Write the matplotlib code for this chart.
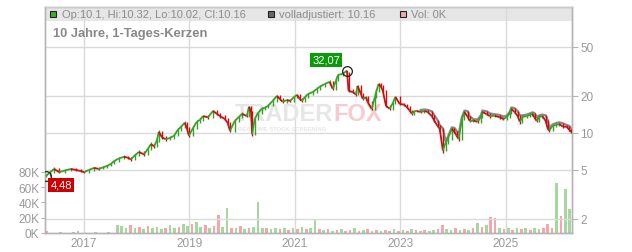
import matplotlib
matplotlib.use("Agg")
import matplotlib.pyplot as plt
import numpy as np
from matplotlib.collections import LineCollection
from matplotlib.patches import Rectangle

plt.rcParams['font.family'] = ['Liberation Sans', 'DejaVu Sans']

# ---------------- data ----------------
dates = [2016.28, 2016.36, 2016.43, 2016.53, 2016.64, 2016.75, 2016.85, 2016.94, 2017.00, 2017.09,
         2017.19, 2017.28, 2017.36, 2017.44, 2017.51, 2017.57, 2017.66, 2017.76, 2017.83, 2017.89,
         2017.97, 2018.04, 2018.14, 2018.21, 2018.27, 2018.33, 2018.38, 2018.42, 2018.48, 2018.55,
         2018.63, 2018.71, 2018.78, 2018.84, 2018.91, 2018.95, 2018.99, 2019.07, 2019.14, 2019.20,
         2019.26, 2019.35, 2019.45, 2019.52, 2019.58, 2019.67, 2019.73, 2019.77, 2019.86, 2019.94,
         2020.00, 2020.09, 2020.13, 2020.17, 2020.19, 2020.24, 2020.30, 2020.37, 2020.43, 2020.49,
         2020.58, 2020.66, 2020.72, 2020.77, 2020.85, 2020.91, 2020.98, 2021.04, 2021.09, 2021.13,
         2021.19, 2021.25, 2021.34, 2021.42, 2021.47, 2021.57, 2021.66, 2021.72, 2021.78, 2021.82,
         2021.91, 2021.99, 2022.02, 2022.10, 2022.16, 2022.19, 2022.25, 2022.29, 2022.35, 2022.38,
         2022.46, 2022.52, 2022.55, 2022.59, 2022.63, 2022.67, 2022.73, 2022.80, 2022.86, 2022.91,
         2022.99, 2023.07, 2023.12, 2023.18, 2023.22, 2023.27, 2023.31, 2023.39, 2023.46, 2023.52,
         2023.60, 2023.65, 2023.71, 2023.75, 2023.81, 2023.86, 2023.90, 2023.98, 2024.03, 2024.07,
         2024.11, 2024.17, 2024.22, 2024.28, 2024.32, 2024.39, 2024.47, 2024.53, 2024.56, 2024.64,
         2024.70, 2024.79, 2024.89, 2024.96, 2025.02, 2025.08, 2025.11, 2025.17, 2025.23, 2025.27,
         2025.32, 2025.40, 2025.46, 2025.51, 2025.55, 2025.59, 2025.64, 2025.70, 2025.76, 2025.80,
         2025.83, 2025.89, 2025.95, 2026.02, 2026.08, 2026.16, 2026.21, 2026.25]

closes = [4.48, 4.8, 5.1, 4.8, 4.95, 5.1, 5.0, 4.9, 4.8, 5.0,
          5.2, 5.1, 5.25, 5.4, 5.6, 5.9, 6.2, 6.4, 6.3, 6.1,
          6.6, 7.0, 6.7, 7.4, 8.1, 7.8, 8.6, 10.2, 9.2, 8.9,
          9.1, 9.5, 10.6, 11.2, 12.1, 11.0, 9.5, 11.0, 12.3, 12.8,
          13.7, 13.4, 15.1, 14.3, 13.7, 13.0, 12.0, 10.4, 12.5, 13.5,
          14.3, 13.7, 16.3, 14.8, 9.8, 13.0, 14.5, 15.7, 16.0, 16.6,
          18.2, 20.0, 18.8, 17.9, 18.5, 18.2, 19.5, 20.4, 19.0, 18.2,
          19.5, 20.7, 21.5, 22.8, 23.7, 25.0, 26.0, 22.8, 26.5, 29.6,
          30.2, 32.07, 22.0, 21.5, 20.5, 24.1, 21.0, 18.9, 19.5, 17.9,
          15.7, 19.6, 22.0, 25.0, 24.0, 22.0, 16.6, 15.7, 17.5, 19.6,
          17.2, 17.0, 16.3, 15.2, 14.3, 15.0, 15.1, 14.8, 15.1, 14.8,
          13.7, 12.5, 11.4, 10.8, 7.2, 8.3, 8.9, 10.8, 10.2, 9.5,
          8.9, 13.0, 14.8, 13.5, 12.5, 12.6, 12.3, 13.5, 14.8, 14.2,
          13.7, 13.8, 13.4, 13.0, 13.4, 14.5, 15.7, 14.8, 13.7, 12.3,
          13.5, 13.7, 14.0, 14.3, 13.3, 12.5, 13.5, 13.7, 12.5, 10.8,
          10.5, 11.4, 11.6, 11.8, 11.3, 11.2, 10.6, 10.16]

highs = [4.6, 4.95, 5.25, 5.15, 5.05, 5.2, 5.15, 5.05, 4.95, 5.1,
         5.3, 5.25, 5.35, 5.5, 5.75, 6.05, 6.35, 6.6, 6.55, 6.4,
         6.75, 7.2, 7.1, 7.6, 8.4, 8.2, 8.9, 10.5, 10.4, 9.4,
         9.4, 9.8, 10.9, 11.6, 12.5, 12.3, 11.2, 11.3, 12.7, 13.2,
         14.1, 14.0, 15.5, 15.3, 14.6, 14.0, 13.3, 12.2, 12.9, 13.9,
         14.7, 14.6, 16.7, 16.5, 15.0, 13.4, 14.9, 16.1, 16.5, 17.1,
         18.7, 20.5, 20.2, 19.1, 18.9, 18.9, 20.0, 20.9, 20.6, 19.3,
         20.0, 21.2, 22.0, 23.4, 24.3, 25.6, 26.7, 26.3, 27.2, 30.3,
         31.0, 32.07, 31.5, 22.6, 22.0, 24.7, 24.4, 21.3, 20.0, 19.8,
         18.1, 20.1, 22.6, 25.6, 25.4, 24.3, 22.3, 16.9, 17.9, 20.1,
         19.9, 17.6, 17.3, 16.5, 15.4, 15.4, 15.5, 15.4, 15.5, 15.4,
         15.0, 13.9, 12.7, 11.6, 10.9, 8.6, 9.2, 11.1, 11.0, 10.4,
         9.7, 13.4, 15.2, 15.0, 13.7, 12.9, 12.9, 13.9, 15.2, 15.0,
         14.4, 14.2, 14.0, 13.6, 13.8, 14.9, 16.1, 15.9, 15.0, 13.9,
         13.9, 14.1, 14.4, 14.7, 14.5, 13.5, 13.9, 14.1, 13.9, 12.7,
         11.0, 11.7, 12.0, 12.2, 12.0, 11.6, 11.4, 10.8]

lows = [4.4, 4.45, 4.75, 4.7, 4.75, 4.9, 4.9, 4.8, 4.7, 4.75,
        4.95, 5.0, 5.05, 5.2, 5.35, 5.55, 5.85, 6.1, 6.15, 5.95,
        6.0, 6.5, 6.5, 6.6, 7.3, 7.5, 7.7, 8.5, 9.0, 8.6,
        8.7, 9.0, 9.4, 10.4, 11.0, 10.7, 9.2, 9.4, 10.8, 12.0,
        12.6, 13.0, 13.2, 14.0, 13.3, 12.7, 11.7, 10.1, 10.2, 12.3,
        13.3, 13.4, 13.5, 14.4, 9.5, 9.7, 12.8, 14.3, 15.4, 15.8,
        16.4, 18.0, 18.4, 17.5, 17.6, 17.8, 18.0, 19.2, 18.6, 17.8,
        18.0, 19.3, 20.4, 21.2, 22.5, 23.4, 24.7, 22.3, 22.5, 26.2,
        29.2, 29.8, 21.5, 21.0, 20.0, 20.2, 20.6, 18.4, 18.5, 17.5,
        15.3, 15.5, 19.3, 21.7, 23.5, 21.5, 16.2, 15.3, 15.5, 17.3,
        16.9, 16.6, 15.9, 14.9, 14.0, 14.1, 14.7, 14.5, 14.6, 14.5,
        13.4, 12.2, 11.1, 10.5, 6.9, 7.1, 8.1, 8.7, 9.9, 9.2,
        8.6, 8.8, 12.8, 13.2, 12.2, 12.2, 12.0, 12.1, 13.3, 13.9,
        13.3, 13.4, 13.1, 12.7, 12.8, 13.2, 14.3, 14.5, 13.4, 11.8,
        12.1, 13.3, 13.5, 13.8, 13.0, 12.2, 12.3, 13.3, 12.2, 10.5,
        10.2, 10.3, 11.2, 11.4, 11.0, 10.9, 10.4, 10.02]

# monthly volume in thousands, Apr 2016 .. Mar 2026
vol_start = 2016.30
vol_k = [2, 0.5, 0, 1, 0.5, 0, 1, 2, 0.5, 0, 0.5, 1.5, 0.5, 0, 1, 0.5,
         11, 9, 7, 10, 6, 8, 5, 9, 6, 8, 5, 7,
         10, 6, 8, 12, 9, 12, 14, 8, 10, 7, 9, 23,
         8, 33, 7, 6, 9, 5, 6, 8, 41, 7, 6, 5,
         6, 5, 7, 4, 6, 5, 8, 5, 6, 17, 5, 4,
         5, 3, 4, 5, 3, 4, 6, 3, 4, 5, 3, 4,
         3, 4, 3, 5, 3, 4, 3, 5, 4, 3, 4, 3,
         4, 5, 11, 5, 4, 6, 4, 5, 4, 6, 13, 8,
         10, 21, 20, 6, 5, 7, 4, 6, 5, 7, 4, 6,
         5, 7, 12, 6, 65, 22, 58, 32]
vol_dir = ("rrgrgrrgggrgrggr" "gggrgrgrgggr" "ggrggrggrgrr" "ggrgrgrgggrg"
           "grgrgrgrggrg" "rgrgrrgrgrgr" "grrgrgrgrgrg" "grrggrgrgrgr"
           "grrgrgrgrgrg" "grrrgrgg")

year_ticks = [2017, 2019, 2021, 2023, 2025]
price_ticks = [2, 5, 10, 20, 50]
vol_ticks = [0, 20, 40, 60, 80]

legend_ohlc = "Op:10.1, Hi:10.32, Lo:10.02, Cl:10.16"
legend_adj = "volladjustiert: 10.16"
legend_vol = "Vol: 0K"
title = "10 Jahre, 1-Tages-Kerzen"
hi_label, lo_label = "32,07", "4,48"

# ---------------- styling ----------------
GREEN = '#3aa02a'
RED = '#c81010'
GRID = '#dadada'
TXT = '#999999'
SPINE = '#b4b4b4'

fig = plt.figure(figsize=(6.32, 2.53), dpi=100)
fig.patch.set_facecolor('white')
W, H = 632, 253
vax = fig.add_axes([45 / W, 19 / H, 527 / W, 226 / H])
pax = vax.twinx()

x0, x1 = 2016.26, 2026.26
vax.set_xlim(x0, x1)
vax.set_ylim(0, 296)

# header band
vax.add_patch(Rectangle((0, 0.936), 1, 0.064, transform=vax.transAxes,
                        fc='#e6e6e6', ec='none', zorder=0.1))

# vertical grid
for yt in year_ticks:
    vax.axvline(yt, color=GRID, lw=1, zorder=0.3)

# volume bars
vx = vol_start + np.arange(len(vol_k)) / 12.0
vcols = ['#a6d89e' if c == 'g' else '#f2a6ae' for c in vol_dir]
vax.bar(vx, vol_k, width=0.05, color=vcols, linewidth=0, zorder=1)

vax.set_yticks(vol_ticks)
vax.set_yticklabels([f"{v}K" for v in vol_ticks])
vax.set_xticks(year_ticks)
vax.set_xticklabels([str(y) for y in year_ticks])
vax.tick_params(axis='y', labelsize=8.5, labelcolor=TXT, color=SPINE, length=3, pad=1)
vax.tick_params(axis='x', labelsize=8.5, labelcolor=TXT, length=0, pad=3)

# price axis
pax.set_yscale('log')
pax.set_ylim(1.538, 105.5)
pax.set_xlim(x0, x1)
for pt in price_ticks:
    pax.axhline(pt, color=GRID, lw=1, zorder=0.3)
pax.set_yticks(price_ticks)
pax.set_yticklabels([str(p) for p in price_ticks])
pax.yaxis.set_minor_locator(matplotlib.ticker.NullLocator())
pax.tick_params(axis='y', labelsize=8.5, labelcolor=TXT, color=SPINE, length=4, pad=2)

for a in (vax, pax):
    for s in a.spines.values():
        s.set_color(SPINE)
        s.set_linewidth(1)
pax.spines['top'].set_color('#cccccc')

# watermark
pax.text(0.547, 0.53, "TRADER", transform=pax.transAxes, ha='right', va='center',
         fontsize=17, fontweight='bold', color='#e6e6e6', zorder=1)
pax.text(0.547, 0.53, "FOX", transform=pax.transAxes, ha='left', va='center',
         fontsize=17, fontweight='bold', color='#f8cccc', zorder=1)
pax.text(0.45, 0.462, "REALTIME STOCK SCREENING", transform=pax.transAxes, ha='center',
         va='center', fontsize=4.2, fontweight='bold', color='#e6e6e6', zorder=1)

# adjusted (gray) line for recent years
adj_idx = [i for i, d in enumerate(dates) if d >= 2023.35]
pax.plot([dates[i] for i in adj_idx], [highs[i] for i in adj_idx],
         color='#8a8a8a', lw=1.6, zorder=2)

# candles: wick (high-low) + connection between closes, coloured by direction
segs, cols, wicks, wcols = [], [], [], []
for i in range(len(dates)):
    up = i == 0 or closes[i] >= closes[i - 1]
    c = GREEN if up else RED
    if i > 0:
        segs.append([(dates[i - 1], closes[i - 1]), (dates[i], closes[i])])
        cols.append(c)
    wicks.append([(dates[i], lows[i]), (dates[i], highs[i])])
    wcols.append(c)
pax.add_collection(LineCollection(wicks, colors=wcols, linewidths=1.0, zorder=3))
pax.add_collection(LineCollection(segs, colors=cols, linewidths=1.3, zorder=3))

# high / low markers
ihi = int(np.argmax(closes))
ilo = int(np.argmin(closes[:20]))
pax.plot([dates[ihi]], [closes[ihi]], 'o', mfc='none', mec='#222222', ms=7, mew=0.9, zorder=5)
pax.plot([dates[ilo]], [closes[ilo]], 'o', mfc='none', mec='#222222', ms=7, mew=0.9, zorder=5)
pax.annotate(hi_label, (dates[ihi], closes[ihi]), xytext=(-21, 11), textcoords='offset pixels',
             ha='center', va='center', fontsize=8, color='white', zorder=6,
             bbox=dict(boxstyle='square,pad=0.18', fc='#0a9a0a', ec='none'))
pax.annotate(lo_label, (dates[ilo], closes[ilo]), xytext=(15, -9), textcoords='offset pixels',
             ha='center', va='center', fontsize=8, color='white', zorder=6,
             bbox=dict(boxstyle='square,pad=0.18', fc='#cc0000', ec='none'))

# header legend
def square(xpx, fc):
    pax.add_patch(Rectangle(((xpx - 45) / 527, (234 - 18.5) / 226), 6 / 527, 6 / 226,
                            transform=pax.transAxes, fc=fc, ec='#222222', lw=0.8,
                            zorder=7, clip_on=False))

square(50, '#44aa33')
pax.text((62 - 45) / 527, (234 - 15) / 226, legend_ohlc, transform=pax.transAxes,
         ha='left', va='center', fontsize=8, color='#8c8c8c', zorder=7)
square(268, '#666666')
pax.text((279 - 45) / 527, (234 - 15) / 226, legend_adj, transform=pax.transAxes,
         ha='left', va='center', fontsize=8, color='#8c8c8c', zorder=7)
square(400, '#f0a8b0')
pax.text((411 - 45) / 527, (234 - 15) / 226, legend_vol, transform=pax.transAxes,
         ha='left', va='center', fontsize=8, color='#8c8c8c', zorder=7)
pax.text((53 - 45) / 527, (234 - 34) / 226, title, transform=pax.transAxes,
         ha='left', va='center', fontsize=9.3, fontweight='bold', color='#888888', zorder=7)

fig.savefig('out.png', dpi=100, facecolor='white')
